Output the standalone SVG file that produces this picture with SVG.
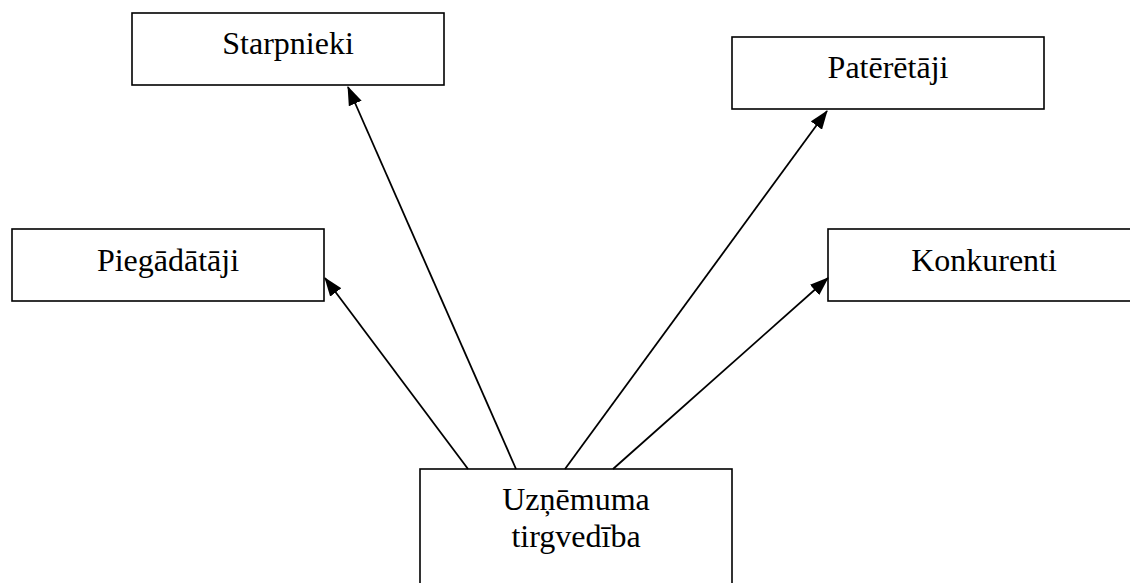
<svg xmlns="http://www.w3.org/2000/svg" width="1130" height="583" viewBox="0 0 1130 583">
<style>
.box{fill:#fff;stroke:#000;stroke-width:1.6}
.lbl{font-family:"Liberation Serif","Times New Roman",serif;font-size:32px;fill:#000;text-anchor:middle}
.conn{stroke:#000;stroke-width:1.8;fill:none;marker-end:url(#arr)}
</style>
<defs>
<marker id="arr" markerUnits="userSpaceOnUse" markerWidth="19" markerHeight="14" viewBox="0 0 19 14" refX="18" refY="7" orient="auto">
<path d="M0,0 L19,7 L0,14 Z" fill="#000"/>
</marker>
</defs>
<rect width="1130" height="583" fill="#fff"/>
<g id="starpnieki"><rect class="box" x="132" y="13" width="312" height="72"/><text class="lbl" x="288" y="54">Starpnieki</text></g>
<g id="pateretaji"><rect class="box" x="732" y="37" width="312" height="72"/><text class="lbl" x="888" y="78">Patērētāji</text></g>
<g id="piegadataji"><rect class="box" x="12" y="229" width="312" height="72"/><text class="lbl" x="168" y="271">Piegādātāji</text></g>
<g id="konkurenti"><rect class="box" x="828" y="229" width="312" height="72"/><text class="lbl" x="984" y="271">Konkurenti</text></g>
<g id="uznemums"><rect class="box" x="420" y="469" width="312" height="130"/><text class="lbl" x="576" y="510">Uzņēmuma</text><text class="lbl" x="576" y="547">tirgvedība</text></g>
<g id="connectors">
<line class="conn" x1="516" y1="469" x2="348" y2="87"/>
<line class="conn" x1="565" y1="469" x2="827" y2="111"/>
<line class="conn" x1="468" y1="469" x2="325" y2="278"/>
<line class="conn" x1="613" y1="469" x2="828" y2="278"/>
</g>
</svg>
